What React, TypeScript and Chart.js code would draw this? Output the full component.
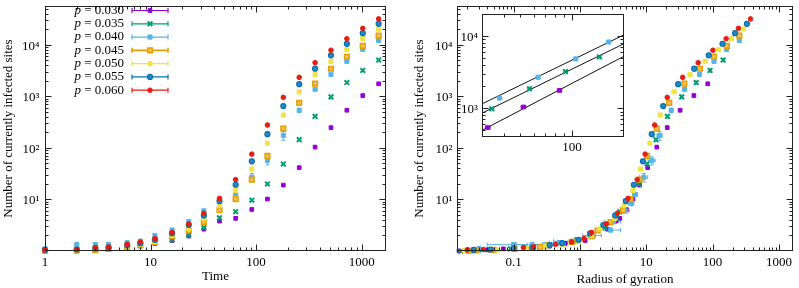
import React, { useEffect, useRef } from 'react';
import { Chart, registerables } from 'chart.js';

Chart.register(...registerables);

// ---------------- data ----------------
const times = [1, 2, 3, 4, 6, 8, 11, 16, 23, 32, 45, 64, 91, 128, 181, 256, 362, 512, 724, 1024, 1448];
const pLabels = ['0.030', '0.035', '0.040', '0.045', '0.050', '0.055', '0.060'];

// number of currently infected sites, per p
const n030 = [1.0, 1.0, 1.05, 1.1, 1.15, 1.25, 1.4, 1.6, 1.95, 2.65, 3.8, 4.3, 6.4, 10.2, 19, 41.5, 104, 248, 540, 1040, 1760];
const n035 = [1.0, 1.05, 1.05, 1.1, 1.2, 1.28, 1.45, 1.65, 2.05, 2.85, 4.4, 5.8, 9.7, 20, 49, 145, 410, 980, 1860, 3200, 5100];
const n040 = [1.1, 1.33, 1.33, 1.33, 1.45, 1.55, 2.0, 2.55, 3.7, 6.0, 8.3, 12.6, 27, 57, 176, 540, 1380, 2680, 4800, 8200, 12200];
const n045 = [1.02, 1.03, 1.05, 1.1, 1.2, 1.3, 1.5, 1.95, 2.5, 3.65, 6.2, 10.2, 24.3, 70, 237, 750, 1780, 3450, 5900, 9600, 15200];
const n050 = [1.03, 1.05, 1.1, 1.12, 1.25, 1.35, 1.5, 2.0, 2.7, 4.3, 7.6, 15, 39, 124, 435, 1230, 2640, 4800, 8100, 13200, 20400];
const n055 = [1.05, 1.07, 1.12, 1.15, 1.3, 1.42, 1.65, 2.2, 3.2, 4.9, 9.3, 19.3, 55, 185, 650, 1730, 3460, 6300, 10500, 16900, 25700];
const n060 = [1.05, 1.07, 1.17, 1.2, 1.35, 1.5, 1.75, 2.3, 3.35, 5.4, 10.5, 24.3, 76, 279, 960, 2350, 4520, 7900, 13200, 21000, 32000];

// radius of gyration, per p
const rg030 = [0.015, 0.02, 0.04, 0.07, 0.15, 0.34, 0.6, 1.2, 1.54, 2.6, 3.5, 4.0, 5.0, 6.3, 7.9, 10.5, 14.4, 20.7, 32.4, 52.2, 84.5];
const rg035 = [0.016, 0.03, 0.045, 0.09, 0.2, 0.3, 0.5, 0.9, 1.42, 2.38, 3.55, 4.0, 5.6, 7.7, 10.3, 14.0, 20.9, 34.2, 56.6, 91.5, 144];
const rg040 = [0.03, 0.1, 0.19, 0.3, 0.5, 0.8, 1.6, 2.9, 3.2, 4.8, 5.9, 6.8, 9.2, 12.1, 15.9, 23.8, 37.9, 63.5, 105, 163, 253];
const rg045 = [0.022, 0.0275, 0.05, 0.103, 0.25, 0.34, 0.75, 1.5, 1.85, 2.9, 4.47, 5.8, 7.9, 10.3, 14.4, 22.2, 37.5, 64.3, 105, 164, 253];
const rg050 = [0.018, 0.058, 0.1, 0.16, 0.3, 0.55, 0.95, 1.5, 2.0, 3.36, 4.6, 6.3, 8.2, 11.3, 16.2, 26.3, 45.6, 77, 123, 192, 291];
const rg055 = [0.025, 0.045, 0.1, 0.19, 0.35, 0.54, 0.95, 1.42, 2.25, 3.4, 4.9, 6.5, 8.9, 12.1, 18, 30.2, 52.8, 87.4, 141, 218, 329];
const rg060 = [0.02, 0.035, 0.14, 0.2, 0.43, 0.75, 1.15, 1.5, 2.5, 3.67, 5.3, 7.3, 9.6, 13.4, 20.7, 35.4, 60.6, 101, 160, 245, 373];

// error bars (visible ones)
const nErr040 = [0.12, 0.12, 0.1, 0.1, 0.12, 0.12, 0.15, 0.2, 0.3, 0.5, 0.7, 1.0, 5, 10, 35, 50, 60, 80, 100, 150, 200];
const rgErr040 = [0.01, 0.06, 0.08, 0.1, 0.15, 0.4, 0.5, 1.2, 0.9, 0.7, 0.6, 0.6, 1.3, 1.5, 1.4, 1.0, 1.0, 1.2, 1.5, 2, 3];
const rgErr030 = [0.006, 0, 0, 0, 0, 0, 0, 0, 0, 0, 0, 0, 0, 0, 0, 0, 0.3, 0.5, 1.0, 1.6, 2.5];
const rgErr035 = [0, 0, 0, 0, 0, 0, 0, 0, 0, 0, 0, 0, 0, 0, 0, 0, 0.5, 0.8, 1.2, 1.8, 2.8];

// inset power-law fits (end points at the inset x range)
const fitRg = [30, 200];
const fit040 = [1146, 10320];
const fit035 = [855, 7780];
const fit030 = [495, 5220];

// tick labels
const leftXTickVals = [1, 10, 100, 1000];
const leftXTickText = ['1', '10', '100', '1000'];
const yTickVals = [10, 100, 1000, 10000];
const yTickText = ['10\u00B9', '10\u00B2', '10\u00B3', '10\u2074'];
const rightXTickVals = [0.1, 1, 10, 100, 1000];
const rightXTickText = ['0.1', '1', '10', '100', '1000'];
const insetXTickVals = [100];
const insetXTickText = ['100'];
const insetYTickVals = [1000, 10000];
const insetYTickText = ['10\u00B3', '10\u2074'];

// ---------------- styles ----------------
const FONT = "'Liberation Serif', 'Times New Roman', serif";
const colors = ['#9400D3', '#009E73', '#56B4E9', '#E69F00', '#F0E442', '#0072B2', '#E51E10'];
type Sty = { shape: 'rect' | 'circle' | 'crossRot'; r: number; fill: string; stroke: string; bw: number };
const markers: Sty[] = [
  { shape: 'rect', r: 2.6, fill: '#9400D3', stroke: '#9400D3', bw: 1 },
  { shape: 'crossRot', r: 3.3, fill: '#009E73', stroke: '#009E73', bw: 2 },
  { shape: 'rect', r: 2.9, fill: '#56B4E9', stroke: '#56B4E9', bw: 1 },
  { shape: 'rect', r: 3.4, fill: '#EEBF55', stroke: '#E69F00', bw: 1.4 },
  { shape: 'rect', r: 2.9, fill: '#F0E442', stroke: '#F0E442', bw: 1 },
  { shape: 'circle', r: 2.5, fill: '#2F86C0', stroke: '#0072B2', bw: 1.2 },
  { shape: 'circle', r: 2.3, fill: '#E51E10', stroke: '#E51E10', bw: 1 },
];

const nSeries = [n030, n035, n040, n045, n050, n055, n060];
const rgSeries = [rg030, rg035, rg040, rg045, rg050, rg055, rg060];
const nErrSeries: (number[] | null)[] = [null, null, nErr040, null, null, null, null];
const rgErrSeries: (number[] | null)[] = [rgErr030, rgErr035, rgErr040, null, null, null, null];

function logTicks(min: number, max: number) {
  const out: { value: number; major: boolean }[] = [];
  const e0 = Math.floor(Math.log10(min));
  const e1 = Math.ceil(Math.log10(max));
  for (let e = e0; e <= e1; e++) {
    for (let m = 1; m <= 9; m++) {
      const v = m * Math.pow(10, e);
      if (v >= min * 0.99999 && v <= max * 1.00001) out.push({ value: v, major: m === 1 });
    }
  }
  return out;
}

function logAxis(o: {
  min: number; max: number; horizontal: boolean; size: number; vals: number[]; texts: string[];
  labelPad: number; labelOffset?: number; title?: string; titlePad?: number;
}) {
  const axis: any = {
    type: 'logarithmic',
    position: o.horizontal ? 'bottom' : 'left',
    min: o.min,
    max: o.max,
    bounds: 'data',
    grid: { display: false, drawTicks: false },
    border: { display: false },
    afterBuildTicks: (scale: any) => {
      scale.ticks = logTicks(o.min, o.max);
    },
    afterFit: (scale: any) => {
      if (o.horizontal) scale.height = o.size;
      else scale.width = o.size;
      scale.paddingLeft = 0;
      scale.paddingRight = 0;
      scale.paddingTop = 0;
      scale.paddingBottom = 0;
    },
    ticks: {
      autoSkip: false,
      maxRotation: 0,
      minRotation: 0,
      padding: o.labelPad,
      labelOffset: o.labelOffset || 0,
      color: '#000',
      font: { family: FONT, size: 13 },
      callback: (value: any) => {
        const v = Number(value);
        const i = o.vals.findIndex((t) => Math.abs(Math.log10(t) - Math.log10(v)) < 1e-6);
        return i >= 0 ? o.texts[i] : '';
      },
    },
    title: o.title
      ? {
          display: true,
          text: o.title,
          color: '#000',
          font: { family: FONT, size: 13 },
          padding: o.horizontal ? { top: 0, bottom: o.titlePad || 0 } : { top: o.titlePad || 0, bottom: 0 },
        }
      : { display: false },
  };
  return axis;
}

function drawMarker(ctx: CanvasRenderingContext2D, s: Sty, x: number, y: number) {
  ctx.save();
  ctx.fillStyle = s.fill;
  ctx.strokeStyle = s.stroke;
  ctx.lineWidth = s.bw;
  ctx.beginPath();
  if (s.shape === 'circle') {
    ctx.arc(x, y, s.r, 0, Math.PI * 2);
    ctx.fill();
    ctx.stroke();
  } else if (s.shape === 'rect') {
    const h = s.r * Math.SQRT1_2;
    ctx.rect(x - h, y - h, 2 * h, 2 * h);
    ctx.fill();
    ctx.stroke();
  } else {
    const h = s.r * Math.SQRT1_2;
    ctx.moveTo(x - h, y - h);
    ctx.lineTo(x + h, y + h);
    ctx.moveTo(x + h, y - h);
    ctx.lineTo(x - h, y + h);
    ctx.stroke();
  }
  ctx.restore();
}

// frame + mirrored inward tick marks (gnuplot style)
const framePlugin = {
  id: 'gpFrame',
  beforeDatasetsDraw(chart: any, _args: any, opts: any) {
    if (opts && opts.fill) {
      const a = chart.chartArea;
      chart.ctx.save();
      chart.ctx.fillStyle = '#fff';
      chart.ctx.fillRect(a.left, a.top, a.right - a.left, a.bottom - a.top);
      chart.ctx.restore();
    }
  },
  afterDraw(chart: any) {
    const { ctx, chartArea: a } = chart;
    const L = Math.round(a.left) + 0.5, R = Math.round(a.right) - 0.5;
    const T = Math.round(a.top) + 0.5, B = Math.round(a.bottom) - 0.5;
    ctx.save();
    ctx.strokeStyle = '#222';
    ctx.lineWidth = 1;
    ctx.beginPath();
    const xs = chart.scales.x, ys = chart.scales.y;
    xs.ticks.forEach((t: any) => {
      const px = Math.round(xs.getPixelForValue(t.value)) + 0.5;
      if (px <= L + 1 || px >= R - 1) return;
      const len = t.major ? 6 : 3;
      ctx.moveTo(px, B); ctx.lineTo(px, B - len);
      ctx.moveTo(px, T); ctx.lineTo(px, T + len);
    });
    ys.ticks.forEach((t: any) => {
      const py = Math.round(ys.getPixelForValue(t.value)) + 0.5;
      if (py <= T + 1 || py >= B - 1) return;
      const len = t.major ? 6 : 3;
      ctx.moveTo(L, py); ctx.lineTo(L + len, py);
      ctx.moveTo(R, py); ctx.lineTo(R - len, py);
    });
    ctx.stroke();
    ctx.strokeRect(L, T, R - L, B - T);
    ctx.restore();
  },
};

// error bars read from the data points (ex, ey)
const errorPlugin = {
  id: 'gpErr',
  beforeDatasetsDraw(chart: any) {
    const { ctx, chartArea: a } = chart;
    const xs = chart.scales.x, ys = chart.scales.y;
    ctx.save();
    ctx.beginPath();
    ctx.rect(a.left, a.top, a.right - a.left, a.bottom - a.top);
    ctx.clip();
    ctx.lineWidth = 1;
    chart.data.datasets.forEach((ds: any) => {
      if (!ds.hasErr) return;
      ctx.strokeStyle = ds.errColor;
      ctx.beginPath();
      ds.data.forEach((pt: any) => {
        const px = xs.getPixelForValue(pt.x), py = ys.getPixelForValue(pt.y);
        if (pt.ey > 0) {
          const y1 = ys.getPixelForValue(Math.max(pt.y - pt.ey, 1e-6));
          const y2 = ys.getPixelForValue(pt.y + pt.ey);
          ctx.moveTo(px, y1); ctx.lineTo(px, y2);
          ctx.moveTo(px - 2, y1); ctx.lineTo(px + 2, y1);
          ctx.moveTo(px - 2, y2); ctx.lineTo(px + 2, y2);
        }
        if (pt.ex > 0) {
          const x1 = xs.getPixelForValue(Math.max(pt.x - pt.ex, 1e-6));
          const x2 = xs.getPixelForValue(pt.x + pt.ex);
          ctx.moveTo(x1, py); ctx.lineTo(x2, py);
          ctx.moveTo(x1, py - 2); ctx.lineTo(x1, py + 2);
          ctx.moveTo(x2, py - 2); ctx.lineTo(x2, py + 2);
        }
      });
      ctx.stroke();
    });
    ctx.restore();
  },
};

// gnuplot-like key in the left panel
const legendPlugin = {
  id: 'gpKey',
  afterDraw(chart: any) {
    const ctx: CanvasRenderingContext2D = chart.ctx;
    ctx.save();
    pLabels.forEach((lab, i) => {
      const y = 10.5 + i * 13.28;
      const rest = ' = ' + lab;
      ctx.textBaseline = 'middle';
      ctx.textAlign = 'left';
      ctx.fillStyle = '#000';
      ctx.font = `13px ${FONT}`;
      const w2 = ctx.measureText(rest).width;
      ctx.font = `italic 13px ${FONT}`;
      const w1 = ctx.measureText('p').width;
      ctx.fillText('p', 124 - w2 - w1, y);
      ctx.font = `13px ${FONT}`;
      ctx.fillText(rest, 124 - w2, y);
      ctx.strokeStyle = colors[i];
      ctx.lineWidth = i === 3 ? 1.6 : 1.2;
      ctx.beginPath();
      ctx.moveTo(132, y); ctx.lineTo(168, y);
      ctx.moveTo(132, y - 2.5); ctx.lineTo(132, y + 2.5);
      ctx.moveTo(168, y - 2.5); ctx.lineTo(168, y + 2.5);
      ctx.stroke();
      drawMarker(ctx, markers[i], 150, y);
    });
    ctx.restore();
  },
};

function makeDataset(i: number, xs: number[], ys: number[], exs: number[] | null, eys: number[] | null, filter?: (x: number, y: number) => boolean) {
  const s = markers[i];
  const data = xs
    .map((x, j) => ({ x, y: ys[j], ex: exs ? exs[j] : 0, ey: eys ? eys[j] : 0 }))
    .filter((p) => (filter ? filter(p.x, p.y) : true));
  return {
    label: 'p = ' + pLabels[i],
    data,
    order: 6 - i,
    showLine: false,
    clip: 6,
    pointStyle: s.shape,
    pointRadius: s.r,
    pointBackgroundColor: s.fill,
    pointBorderColor: s.stroke,
    pointBorderWidth: s.bw,
    hasErr: !!(exs || eys),
    errColor: colors[i],
  };
}

const baseOptions = {
  responsive: false,
  maintainAspectRatio: false,
  animation: false,
  events: [],
  plugins: { legend: { display: false }, tooltip: { enabled: false } },
};

const Y_MAX = 57000;

export default function App() {
  const leftRef = useRef<HTMLCanvasElement>(null);
  const rightRef = useRef<HTMLCanvasElement>(null);
  const insetRef = useRef<HTMLCanvasElement>(null);

  useEffect(() => {
    Chart.defaults.font.family = FONT;
    Chart.defaults.color = '#000';
    const yTitle = 'Number of currently infected sites';

    const left = new Chart(leftRef.current as HTMLCanvasElement, {
      type: 'scatter',
      data: { datasets: nSeries.map((n, i) => makeDataset(i, times, n, null, nErrSeries[i])) as any },
      options: {
        ...baseOptions,
        layout: { padding: { left: 0, right: 14, top: 1, bottom: 0 } },
        scales: {
          x: logAxis({ min: 1, max: 1700, horizontal: true, size: 37, vals: leftXTickVals, texts: leftXTickText, labelPad: 3.8, title: 'Time', titlePad: 3.9 }),
          y: logAxis({ min: 1, max: Y_MAX, horizontal: false, size: 45, vals: yTickVals, texts: yTickText, labelPad: 5.5, labelOffset: 1.5, title: yTitle, titlePad: 0.3 }),
        },
      } as any,
      plugins: [errorPlugin, framePlugin, legendPlugin],
    });

    const right = new Chart(rightRef.current as HTMLCanvasElement, {
      type: 'scatter',
      data: { datasets: nSeries.map((n, i) => makeDataset(i, rgSeries[i], n, rgErrSeries[i], nErrSeries[i])) as any },
      options: {
        ...baseOptions,
        layout: { padding: { left: 0, right: 2, top: 1, bottom: 0 } },
        scales: {
          x: logAxis({ min: 0.014, max: 1630, horizontal: true, size: 37, vals: rightXTickVals, texts: rightXTickText, labelPad: 3.8, title: 'Radius of gyration', titlePad: 0.8 }),
          y: logAxis({ min: 1, max: Y_MAX, horizontal: false, size: 57, vals: yTickVals, texts: yTickText, labelPad: 4.5, labelOffset: 1.5, title: yTitle, titlePad: 11.5 }),
        },
      } as any,
      plugins: [errorPlugin, framePlugin],
    });

    const inRange = (x: number, y: number) => x >= fitRg[0] && x <= fitRg[1] && y >= 400 && y <= 20000;
    const fitLine = (ys: number[], k: number) => ({
      label: 'fit' + k,
      data: fitRg.map((x, j) => ({ x, y: ys[j] })),
      showLine: true,
      borderColor: '#111',
      borderWidth: 1,
      pointRadius: 0,
      order: 20,
    });
    const inset = new Chart(insetRef.current as HTMLCanvasElement, {
      type: 'scatter',
      data: {
        datasets: [
          fitLine(fit040, 0),
          fitLine(fit035, 1),
          fitLine(fit030, 2),
          makeDataset(0, rg030, n030, rgErr030, null, inRange),
          makeDataset(1, rg035, n035, rgErr035, null, inRange),
          makeDataset(2, rg040, n040, rgErr040, nErr040, inRange),
        ] as any,
      },
      options: {
        ...baseOptions,
        layout: { padding: { left: 0, right: 16, top: 14, bottom: 0 } },
        plugins: { ...baseOptions.plugins, gpFrame: { fill: true } },
        scales: {
          x: logAxis({ min: 30, max: 200, horizontal: true, size: 23, vals: insetXTickVals, texts: insetXTickText, labelPad: 2.7 }),
          y: logAxis({ min: 400, max: 20000, horizontal: false, size: 42, vals: insetYTickVals, texts: insetYTickText, labelPad: 4, labelOffset: 1.5 }),
        },
      } as any,
      plugins: [framePlugin, errorPlugin],
    });

    return () => {
      left.destroy();
      right.destroy();
      inset.destroy();
    };
  }, []);

  return (
    <div style={{ position: 'fixed', left: 0, top: 0, width: 799, height: 288, background: '#fff', overflow: 'hidden' }}>
      <canvas ref={leftRef} width={400} height={288} style={{ position: 'absolute', left: 0, top: 0, width: 400, height: 288 }} />
      <canvas ref={rightRef} width={399} height={288} style={{ position: 'absolute', left: 400, top: 0, width: 399, height: 288 }} />
      <canvas ref={insetRef} width={200} height={160} style={{ position: 'absolute', left: 440, top: 0, width: 200, height: 160 }} />
    </div>
  );
}
